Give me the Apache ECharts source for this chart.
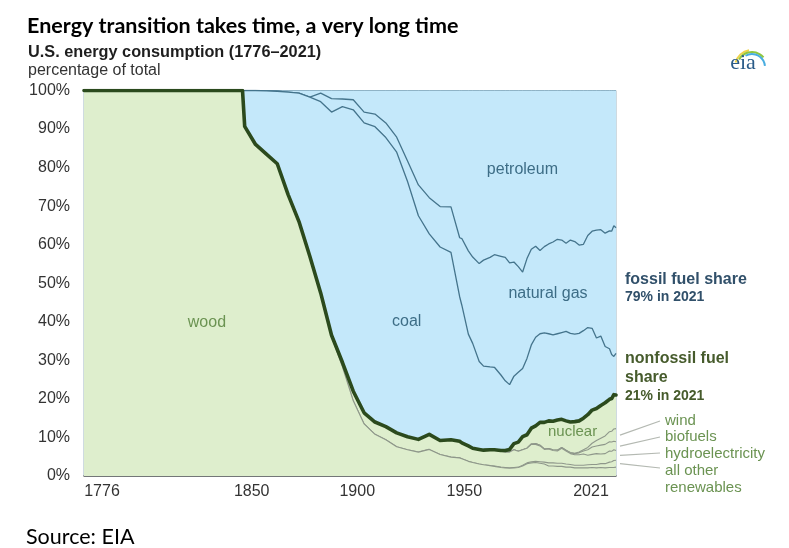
<!DOCTYPE html>
<html>
<head>
<meta charset="utf-8">
<script src="https://cdn.jsdelivr.net/npm/echarts@6/dist/echarts.min.js"></script>
<style>
  html, body { margin: 0; padding: 0; background: #ffffff; }
  #chart { width: 789px; height: 548px; }
</style>
</head>
<body>
<div id="chart"></div>
<script>
// Shares of U.S. primary energy consumption, percent of total
const years = [1776, 1849, 1850, 1855, 1860, 1865, 1870, 1875, 1880, 1885, 1890, 1895, 1900, 1905, 1910, 1915, 1920, 1925, 1930, 1935, 1940, 1945,
  1949, 1950, 1953, 1955, 1958, 1960, 1963, 1965, 1968, 1970, 1972, 1974, 1976, 1978,
  1980, 1982, 1984, 1986, 1988, 1990, 1992, 1994, 1996, 1998, 2000, 2002, 2004, 2006, 2008, 2010, 2012, 2014, 2016, 2018,
  2019, 2020, 2021];

// nonfossil sources, stacked from the bottom
const wood = [100, 100, 90.7, 86, 83.5, 81, 73, 66, 57, 47.5, 36.2, 28.3, 19.5, 13.5, 10.8, 9.4, 7.6, 6.8, 6.2, 6.9, 5.6, 4.9,
  4.7, 4.5, 3.8, 3.5, 3.1, 2.9, 2.7, 2.5, 2.2, 2.1, 2.0, 2.1, 2.2, 2.6,
  3.2, 3.4, 3.5, 3.3, 3.1, 2.6, 2.6, 2.5, 2.5, 2.3, 2.3, 2.1, 2.1, 2.1, 2.1, 2.2, 2.1, 2.2, 2.1, 2.2,
  2.2, 2.2, 2.3];
const otherRenewables = [0, 0, 0, 0, 0, 0, 0, 0, 0, 0, 0, 0, 0, 0, 0, 0, 0, 0, 0, 0, 0, 0,
  0, 0, 0, 0, 0, 0, 0, 0.1, 0.1, 0.1, 0.1, 0.1, 0.1, 0.2,
  0.2, 0.3, 0.3, 0.4, 0.5, 0.8, 0.8, 0.8, 0.8, 0.8, 0.7, 0.7, 0.7, 0.7, 0.8, 0.8, 0.9, 1.0, 1.1, 1.4,
  1.5, 1.8, 1.8];
const hydro = [0, 0, 0, 0, 0, 0, 0, 0, 0, 0, 0.3, 1.2, 2.5, 2.9, 3.2, 3.4, 3.6, 3.4, 3.3, 3.9, 3.6, 4.5,
  4.3, 4.1, 4.0, 3.7, 3.8, 3.8, 4.0, 4.1, 4.1, 4.0, 4.1, 4.6, 4.1, 4.0,
  3.8, 4.5, 4.4, 4.1, 3.3, 3.6, 3.2, 3.2, 3.9, 3.4, 2.8, 2.7, 2.7, 2.9, 2.5, 2.6, 2.8, 2.5, 2.6, 2.9,
  2.7, 2.8, 2.5];
const biofuels = [0, 0, 0, 0, 0, 0, 0, 0, 0, 0, 0, 0, 0, 0, 0, 0, 0, 0, 0, 0, 0, 0,
  0, 0, 0, 0, 0, 0, 0, 0, 0, 0, 0, 0, 0, 0,
  0, 0.1, 0.2, 0.2, 0.1, 0.1, 0.2, 0.2, 0.2, 0.2, 0.2, 0.3, 0.5, 0.8, 1.4, 1.9, 2.0, 2.3, 2.4, 2.4,
  2.4, 2.2, 2.3];
const wind = [0, 0, 0, 0, 0, 0, 0, 0, 0, 0, 0, 0, 0, 0, 0, 0, 0, 0, 0, 0, 0, 0,
  0, 0, 0, 0, 0, 0, 0, 0, 0, 0, 0, 0, 0, 0,
  0, 0, 0, 0, 0, 0, 0, 0, 0, 0, 0.1, 0.1, 0.2, 0.3, 0.6, 1.0, 1.4, 1.8, 2.2, 2.6,
  2.8, 3.2, 3.4];
const nuclear = [0, 0, 0, 0, 0, 0, 0, 0, 0, 0, 0, 0, 0, 0, 0, 0, 0, 0, 0, 0, 0, 0,
  0, 0, 0, 0, 0, 0, 0.1, 0.1, 0.2, 0.4, 0.7, 1.6, 2.4, 3.4,
  3.5, 4.1, 4.6, 5.9, 6.9, 7.2, 7.4, 7.8, 7.3, 7.6, 7.9, 8.2, 8.1, 8.2, 8.5, 8.6, 8.3, 8.5, 8.6, 8.4,
  8.5, 8.9, 8.7];

// fossil fuels, stacked above the nonfossil total
const coal = [0, 0, 9.3, 14, 16.4, 18.8, 26.6, 33.3, 41.3, 49.6, 57.9, 66.3, 73.0, 75.2, 76.6, 75.0, 72.8, 66.2, 58.0, 52.0, 50.2, 48.6,
  37.5, 35.7, 29.0, 27.2, 22.8, 21.8, 21.5, 21.4, 19.6, 18.1, 16.8, 17.5, 18.1, 17.7,
  19.8, 21.6, 23.0, 23.0, 23.2, 22.6, 22.4, 22.4, 22.5, 23.2, 23.0, 22.7, 22.7, 22.7, 22.6, 21.2, 18.3, 18.0, 14.6, 13.1,
  11.4, 9.9, 10.8];
const naturalGas = [0, 0, 0, 0, 0, 0, 0, 0, 0, 2.2, 3.5, 2.0, 2.6, 2.8, 3.3, 3.8, 3.9, 5.3, 8.0, 9.4, 10.5, 11.8,
  15.3, 17.3, 21.6, 22.4, 25.4, 27.5, 28.4, 29.2, 30.8, 32.0, 31.6, 29.6, 27.4, 25.0,
  25.9, 24.8, 23.6, 21.6, 22.4, 23.3, 24.1, 24.5, 24.0, 22.9, 24.2, 24.0, 22.9, 22.4, 23.9, 25.2, 28.0, 27.6, 29.4, 30.6,
  32.0, 33.9, 32.6];
const petroleum = [0, 0, 0, 0, 0.1, 0.2, 0.4, 0.7, 1.7, 0.7, 2.1, 2.2, 2.4, 5.6, 6.1, 8.4, 12.1, 18.3, 24.5, 27.8, 30.1, 30.2,
  38.2, 38.4, 41.6, 43.2, 44.9, 44.0, 43.3, 42.6, 43.0, 43.3, 44.7, 44.5, 45.7, 47.1,
  43.6, 41.2, 40.4, 41.5, 40.5, 39.8, 39.3, 38.6, 38.8, 39.6, 38.8, 39.2, 40.1, 39.9, 37.6, 36.5, 36.2, 36.1, 37.0, 36.4,
  36.5, 35.1, 35.6];

const yTicks = [0, 10, 20, 30, 40, 50, 60, 70, 80, 90, 100];
const xTicks = [1776, 1850, 1900, 1950, 2021];

const SANS = '"Liberation Sans", Arial, sans-serif';
const CALIBRI_LIKE = 'Lato, "Open Sans", sans-serif';
const GREEN_FILL = '#deeecd';
const BLUE_FILL = '#c4e8fa';
const GRAY_EDGE = '#8e978a';
const BLUE_EDGE = '#44748c';

// rows are [share, year]; the share column comes first so that it is the one stacked
const rows = arr => years.map((yr, i) => [arr[i], yr]);

// nonfossil share = sum of all nonfossil sources in each year
const nonfossilShare = years.map((_, i) =>
  wood[i] + otherRenewables[i] + hydro[i] + biofuels[i] + wind[i] + nuclear[i]);

function layer(name, values, fill, edge, edgeWidth, z) {
  return {
    name, type: 'line', stack: 'share', data: rows(values),
    encode: { x: 1, y: 0 },
    symbol: 'none', z, silent: true,
    lineStyle: { color: edge, width: edgeWidth },
    areaStyle: { color: fill, opacity: 1 },
    emphasis: { disabled: true }
  };
}

// tick labels: first and last sit inside the plot edges
const tickRich = {
  first: { padding: [0, 0, 0, 36] },
  t1850: { padding: [0, 0, 0, 14] },
  t1900: { padding: [0, 0, 0, 8] },
  t1950: { padding: [0, 0, 0, 5] },
  last: { padding: [0, 50, 0, 0] }
};
Object.values(tickRich).forEach(s => { s.fontSize = 16; s.color = '#333'; s.fontFamily = SANS; });

const chart = echarts.init(document.getElementById('chart'));

chart.setOption({
  animation: false,
  backgroundColor: '#ffffff',
  grid: {
    left: 84, right: 173, top: 90.5, bottom: 72,
    show: true, borderColor: '#9fb6c2', borderWidth: 1, backgroundColor: 'transparent'
  },
  xAxis: {
    type: 'value', min: 1776, max: 2021,
    axisLine: { show: true, lineStyle: { color: '#555', width: 1.5 } },
    axisTick: { show: false },
    splitLine: { show: false },
    axisLabel: {
      customValues: xTicks,
      margin: 8,
      fontSize: 16, color: '#333', fontFamily: SANS,
      formatter: v => {
        if (v === 1776) return '{first|1776}';
        if (v === 2021) return '{last|2021}';
        return '{t' + v + '|' + v + '}';
      },
      rich: tickRich
    }
  },
  yAxis: {
    type: 'value', min: 0, max: 100, interval: 10,
    axisLine: { show: false },
    axisTick: { show: false },
    splitLine: { show: false },
    axisLabel: { margin: 14, fontSize: 16, color: '#333', fontFamily: SANS, formatter: '{value}%' }
  },
  series: [
    layer('wood', wood, GREEN_FILL, GRAY_EDGE, 1.1, 9),
    layer('all other renewables', otherRenewables, GREEN_FILL, GRAY_EDGE, 1.1, 8),
    layer('hydroelectricity', hydro, GREEN_FILL, GRAY_EDGE, 1.1, 7),
    layer('biofuels', biofuels, GREEN_FILL, GRAY_EDGE, 1.1, 6),
    layer('wind', wind, GREEN_FILL, GRAY_EDGE, 1.1, 5),
    layer('nuclear', nuclear, GREEN_FILL, GRAY_EDGE, 0, 4),
    layer('coal', coal, BLUE_FILL, BLUE_EDGE, 1.3, 3),
    layer('natural gas', naturalGas, BLUE_FILL, BLUE_EDGE, 1.3, 2),
    layer('petroleum', petroleum, BLUE_FILL, '#8fb3c6', 1, 1),
    {
      name: 'nonfossil share', type: 'line', data: rows(nonfossilShare),
      encode: { x: 1, y: 0 },
      symbol: 'none', z: 20, silent: true,
      lineStyle: { color: '#2b4a1d', width: 3.6, join: 'round', cap: 'round' },
      emphasis: { disabled: true }
    }
  ]
});

// annotations: positions of in-plot labels and leader lines come from the axes
const px = (yr, pct) => chart.convertToPixel({ gridIndex: 0 }, [yr, pct]);
const last = years.length - 1;
const base = [wood, otherRenewables, hydro, biofuels, wind].map(a => a[last]);
const midOf = k => base.slice(0, k).reduce((s, v) => s + v, 0) + base[k] / 2;
const edgeX = px(2021, 0)[0] + 4;

function txt(x, y, text, font, fill, align) {
  return { type: 'text', x, y, z: 100, silent: true,
    style: { text, font, fill, align: align || 'left', verticalAlign: 'middle' } };
}
function inPlot(yr, pct, text, fill, size) {
  const p = px(yr, pct);
  return txt(p[0], p[1], text, (size || 16) + 'px ' + SANS, fill, 'center');
}
function leader(k, labelY) {
  const y0 = px(2021, midOf(k))[1];
  return { type: 'line', z: 100, silent: true,
    shape: { x1: edgeX, y1: y0, x2: 660, y2: labelY },
    style: { stroke: '#b4b9b2', lineWidth: 1.2 } };
}
function swoosh(r, fromDeg, toDeg, color) {
  return { type: 'arc', z: 100, silent: true,
    shape: { cx: 752, cy: 67, r, startAngle: fromDeg * Math.PI / 180, endAngle: toDeg * Math.PI / 180, clockwise: true },
    style: { stroke: color, lineWidth: 2, fill: null } };
}

const FOSSIL_TXT = '#31506a';
const NONFOSSIL_TXT = '#465b2c';
const SOURCE_TXT = '#6b9352';
const FOSSIL_LBL = '#3d6d86';

chart.setOption({
  graphic: [
    txt(27, 26, 'Energy transition takes time, a very long time', 'bold 21.5px ' + CALIBRI_LIKE, '#000'),
    txt(28, 53, 'U.S. energy consumption (1776\u20132021)', 'bold 16.3px ' + SANS, '#1e1e1e'),
    txt(28, 71, 'percentage of total', '16px ' + SANS, '#333'),
    txt(26, 537, 'Source: EIA', '21.5px ' + CALIBRI_LIKE, '#000'),

    inPlot(1832.6, 39.9, 'wood', SOURCE_TXT),
    inPlot(1924.6, 40.1, 'coal', FOSSIL_LBL),
    inPlot(1989.7, 47.3, 'natural gas', FOSSIL_LBL),
    inPlot(1977.9, 79.6, 'petroleum', FOSSIL_LBL),
    inPlot(2001, 11.5, 'nuclear', SOURCE_TXT, 15),

    txt(625, 280, 'fossil fuel share', 'bold 16px ' + SANS, FOSSIL_TXT),
    txt(625, 297.5, '79% in 2021', 'bold 14px ' + SANS, FOSSIL_TXT),
    txt(625, 359, 'nonfossil fuel', 'bold 16px ' + SANS, NONFOSSIL_TXT),
    txt(625, 378, 'share', 'bold 16px ' + SANS, NONFOSSIL_TXT),
    txt(625, 396, '21% in 2021', 'bold 14px ' + SANS, NONFOSSIL_TXT),

    leader(4, 421),
    leader(3, 437),
    leader(2, 453),
    leader(1, 468),
    txt(665, 420.5, 'wind', '15px ' + SANS, SOURCE_TXT),
    txt(665, 437, 'biofuels', '15px ' + SANS, SOURCE_TXT),
    txt(665, 453.5, 'hydroelectricity', '15px ' + SANS, SOURCE_TXT),
    txt(665, 470.5, 'all other', '15px ' + SANS, SOURCE_TXT),
    txt(665, 488, 'renewables', '15px ' + SANS, SOURCE_TXT),

    // eia mark
    swoosh(17, -165, -100, '#efd34a'),
    swoosh(15, -150, -40, '#8fc640'),
    swoosh(13, -120, -5, '#49ade0'),
    txt(743, 63, 'eia', '22px "Liberation Serif", "DejaVu Serif", serif', '#2a5b88', 'center')
  ]
});
</script>
</body>
</html>
